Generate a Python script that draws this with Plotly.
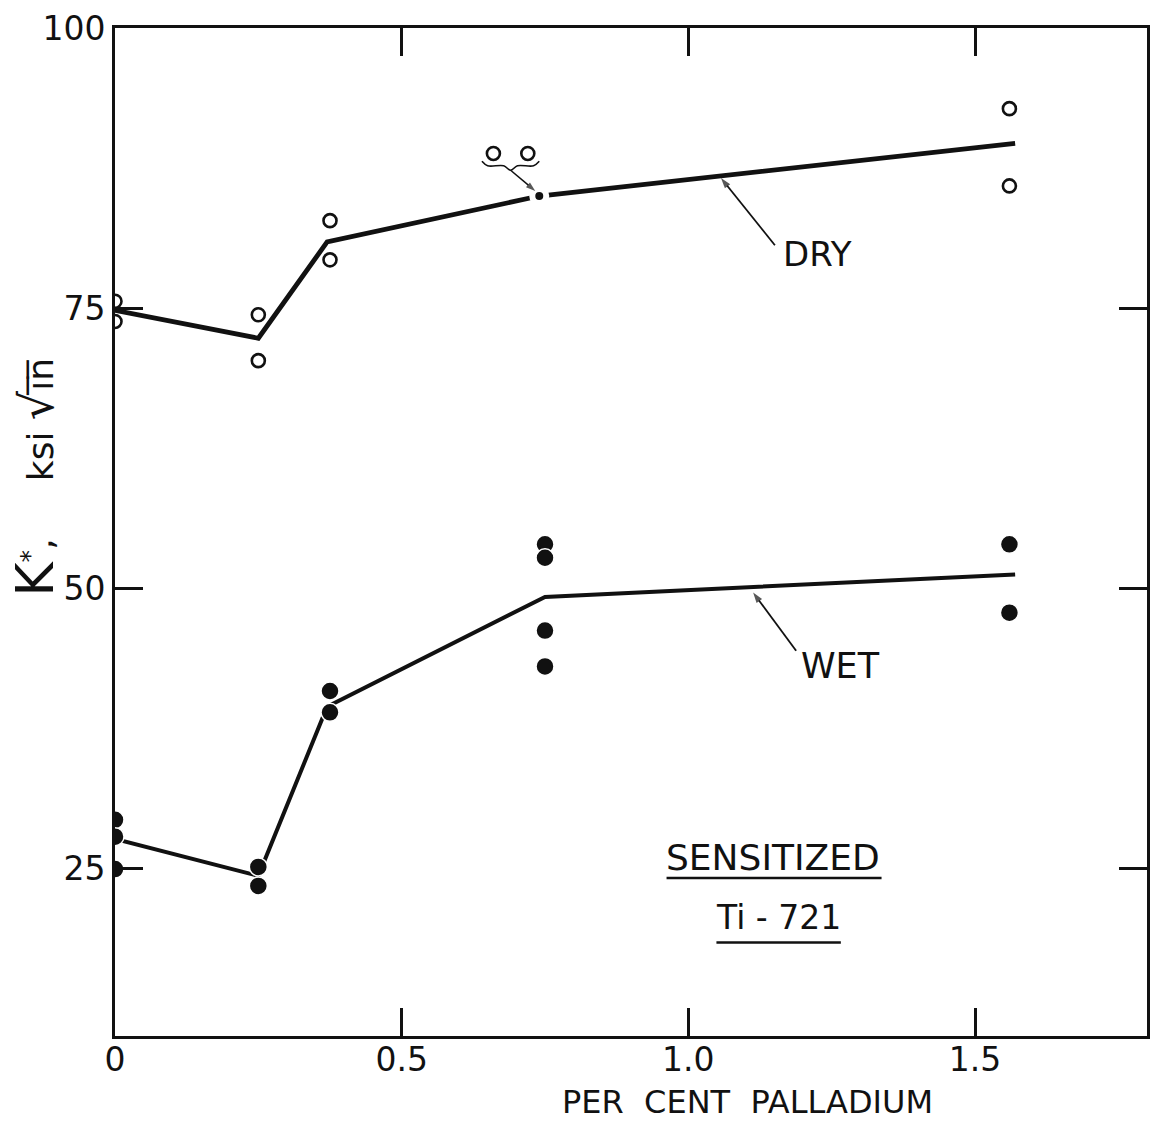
import plotly.graph_objects as go

# ---- data ----
dry_x = [0, 0, 0.25, 0.25, 0.375, 0.375, 1.56, 1.56]
dry_y = [75.6, 73.8, 74.4, 70.3, 82.8, 79.3, 92.8, 85.9]
# two dry points at 0.75 % drawn displaced above the curve (with a brace + arrow)
dry_shift_x = [0.66, 0.72]
dry_shift_y = [88.8, 88.8]
dry_fit_x = [0, 0.25, 0.37, 0.74, 1.57]
dry_fit_y = [74.8, 72.3, 80.9, 85.0, 89.7]

wet_x = [0, 0, 0, 0.25, 0.25, 0.375, 0.375, 0.75, 0.75, 0.75, 0.75, 1.56, 1.56]
wet_y = [29.3, 27.8, 24.9, 25.1, 23.4, 40.8, 38.9, 53.9, 52.7, 46.2, 43.0, 53.9, 47.8]
wet_fit_x = [0, 0.25, 0.37, 0.75, 1.57]
wet_fit_y = [27.6, 24.3, 39.4, 49.2, 51.2]

x_ticks = [0, 0.5, 1.0, 1.5]
x_tick_text = ["0", "0.5", "1.0", "1.5"]
y_ticks = [25, 50, 75, 100]
y_tick_text = ["25", "50", "75", "100"]

# label arrows: (tail x, tail y) -> (head x, head y)
dry_arrow_x = [1.151, 1.057]
dry_arrow_y = [80.6, 86.6]
wet_arrow_x = [1.188, 1.113]
wet_arrow_y = [44.4, 49.6]

FONT = "DejaVu Sans"
BLACK = "#111111"

fig = go.Figure()

# fitted curves
fig.add_trace(go.Scatter(x=dry_fit_x, y=dry_fit_y, mode="lines",
                         line=dict(color=BLACK, width=4.8), hoverinfo="skip"))
fig.add_trace(go.Scatter(x=wet_fit_x, y=wet_fit_y, mode="lines",
                         line=dict(color=BLACK, width=4), hoverinfo="skip"))

# the mean-point dot on the dry curve at 0.75 %, with a small white gap around it
fig.add_trace(go.Scatter(x=[dry_fit_x[3]], y=[dry_fit_y[3]], mode="markers",
                         marker=dict(size=20, color="white", line=dict(width=0)),
                         hoverinfo="skip"))
fig.add_trace(go.Scatter(x=[dry_fit_x[3]], y=[dry_fit_y[3]], mode="markers",
                         marker=dict(size=8, color=BLACK), hoverinfo="skip"))

# dry (open circles)
fig.add_trace(go.Scatter(x=dry_x + dry_shift_x, y=dry_y + dry_shift_y, mode="markers",
                         marker=dict(symbol="circle", size=13, color="white",
                                     line=dict(color=BLACK, width=2.6)),
                         name="DRY"))
# wet (filled dots)
fig.add_trace(go.Scatter(x=wet_x, y=wet_y, mode="markers",
                         marker=dict(symbol="circle", size=18, color=BLACK,
                                     line=dict(color="white", width=1.5)),
                         name="WET"))

# brace under the displaced dry points
bl = min(dry_shift_x) - 0.02
br = max(dry_shift_x) + 0.02
bm = (bl + br) / 2
by = dry_shift_y[0] - 1.0
fig.add_trace(go.Scatter(
    x=[bl, bl + 0.01, bm - 0.012, bm, bm + 0.012, br - 0.01, br],
    y=[by + 0.3, by - 0.1, by - 0.1, by - 0.5, by - 0.1, by - 0.1, by + 0.3],
    mode="lines", line=dict(color=BLACK, width=1.6, shape="spline"), hoverinfo="skip"))


def arrow_trace(xs, ys, width=1.8, size=11):
    return go.Scatter(x=xs, y=ys, mode="lines+markers",
                      line=dict(color=BLACK, width=width),
                      marker=dict(symbol=["circle", "arrow"], size=[0, size], color=BLACK,
                                  angleref="previous", line=dict(width=0)),
                      hoverinfo="skip")


# brace arrow to the mean dot
fig.add_trace(arrow_trace([bm, dry_fit_x[3] - 0.007], [by - 0.5, dry_fit_y[3] + 0.45],
                          width=1.5, size=10))
fig.add_trace(arrow_trace(dry_arrow_x, dry_arrow_y))
fig.add_trace(arrow_trace(wet_arrow_x, wet_arrow_y))

annotations = []
annotations.append(dict(x=1.226, y=79.8, xref="x", yref="y", text="DRY",
                        showarrow=False, font=dict(family=FONT, size=34, color=BLACK)))
annotations.append(dict(x=1.266, y=43.0, xref="x", yref="y", text="WET",
                        showarrow=False, font=dict(family=FONT, size=35, color=BLACK)))
annotations.append(dict(x=1.148, y=25.9, xref="x", yref="y", text="SENSITIZED",
                        showarrow=False, font=dict(family=FONT, size=36, color=BLACK)))
annotations.append(dict(x=1.157, y=20.6, xref="x", yref="y", text="Ti - 721",
                        showarrow=False, font=dict(family=FONT, size=33, color=BLACK)))
# axis titles
annotations.append(dict(x=(749 - 115) / 1035, y=(1036 - 1102) / 1014, xref="paper", yref="paper",
                        xanchor="center", yanchor="middle", borderpad=0,
                        text="PER\u00a0 CENT\u00a0 PALLADIUM", showarrow=False,
                        font=dict(family=FONT, size=32, color=BLACK)))
annotations.append(dict(x=(35 - 115) / 1035, y=(1036 - 474) / 1014, xref="paper", yref="paper",
                        xanchor="center", yanchor="middle", textangle=-90,
                        text=("<span style='font-size:52px'>K</span><sup>*</sup>,"
                              "\u00a0\u00a0\u00a0\u00a0\u00a0ksi\u00a0"
                              "<span style='font-size:46px'>√</span>i\u0305n\u0305"),
                        showarrow=False, font=dict(family=FONT, size=36, color=BLACK)))

shapes = [
    dict(type="line", xref="x", yref="y", x0=0.962, x1=1.337, y0=24.1, y1=24.1,
         line=dict(color=BLACK, width=2.5)),
    dict(type="line", xref="x", yref="y", x0=1.049, x1=1.266, y0=18.35, y1=18.35,
         line=dict(color=BLACK, width=2.5)),
]

fig.update_layout(
    width=1159, height=1123,
    margin=dict(l=115, r=9, t=22, b=87),
    paper_bgcolor="white", plot_bgcolor="white",
    showlegend=False,
    annotations=annotations, shapes=shapes,
    font=dict(family=FONT, color=BLACK),
)
fig.update_xaxes(range=[0, 1.8], tickvals=x_ticks, ticktext=x_tick_text,
                 showgrid=False, zeroline=False, showline=True, linecolor=BLACK,
                 linewidth=3, mirror="ticks", ticks="inside", ticklen=28, tickwidth=2.5,
                 tickcolor=BLACK, ticklabelstandoff=-8,
                 tickfont=dict(family=FONT, size=33, color=BLACK))
fig.update_yaxes(range=[10, 100], tickvals=y_ticks, ticktext=y_tick_text,
                 showgrid=False, zeroline=False, showline=True, linecolor=BLACK,
                 linewidth=3, mirror="ticks", ticks="inside", ticklen=28, tickwidth=2.5,
                 tickcolor=BLACK, tickfont=dict(family=FONT, size=33, color=BLACK))

fig.write_html("out.html")
